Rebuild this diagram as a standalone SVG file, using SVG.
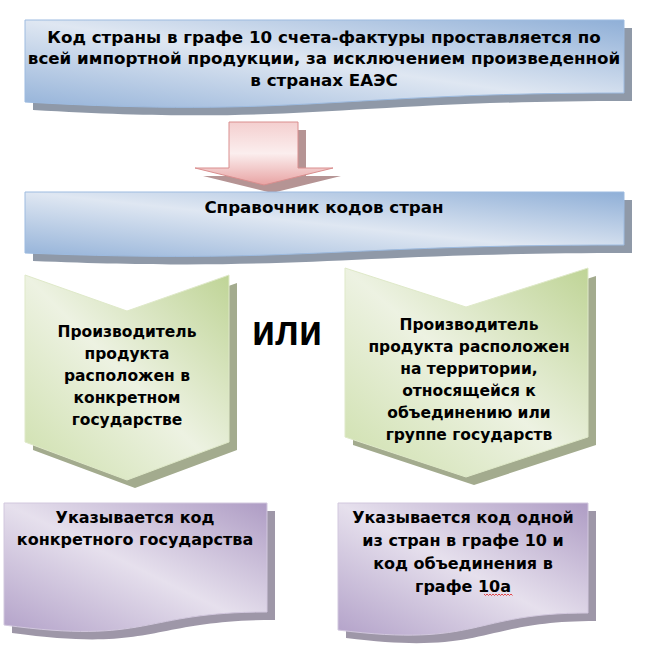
<svg xmlns="http://www.w3.org/2000/svg" width="648" height="669" viewBox="0 0 648 669">
<defs>
  <linearGradient id="gBlue" x1="1" y1="0" x2="0" y2="1">
    <stop offset="0" stop-color="#8fafd7"/>
    <stop offset="0.5" stop-color="#dfe7f2"/>
    <stop offset="1" stop-color="#95b3d9"/>
  </linearGradient>
  <linearGradient id="gGreen" x1="1" y1="0" x2="0" y2="1">
    <stop offset="0" stop-color="#bfd496"/>
    <stop offset="0.5" stop-color="#edf2e2"/>
    <stop offset="1" stop-color="#cddfab"/>
  </linearGradient>
  <linearGradient id="gPurple" x1="1" y1="0" x2="0" y2="1">
    <stop offset="0" stop-color="#ae9cc4"/>
    <stop offset="0.5" stop-color="#e6e0ed"/>
    <stop offset="1" stop-color="#b3a2c9"/>
  </linearGradient>
  <linearGradient id="gArrow" x1="0" y1="0" x2="0" y2="1">
    <stop offset="0" stop-color="#f4cfcf"/>
    <stop offset="0.5" stop-color="#fbeeee"/>
    <stop offset="1" stop-color="#e8a3a3"/>
  </linearGradient>
</defs>
<style>
  .t { font-family: "DejaVu Sans", Verdana, sans-serif; font-weight: bold; font-size: 15.5px; fill: #000; text-anchor: middle; }
  .tb { font-size: 16.7px; }
  .tp { font-size: 16px; }
  .big { font-family: "Liberation Sans", Arial, sans-serif; font-weight: bold; font-size: 42px; fill: #000; text-anchor: middle; }
  .blue { fill: url(#gBlue); stroke: #9dbbe0; stroke-width: 1; }
  .green { fill: url(#gGreen); stroke: #dfe9c9; stroke-width: 1; }
  .purple { fill: url(#gPurple); stroke: #d2c8de; stroke-width: 1; }
  .shB { fill: #8f99a8; }
  .shG { fill: #a3ab8e; }
  .shP { fill: #9e97a8; }
</style>

<g id="box-top">
  <path class="shB" transform="translate(8,8)" d="M25,20 H624 V93 C330,93 300,118 25,102 Z"/>
  <path class="blue" d="M25,20 H624 V93 C330,93 300,118 25,102 Z"/>
  <text class="t tb" x="324" y="43">Код страны в графе 10 счета-фактуры проставляется по</text>
  <text class="t tb" x="324" y="64">всей импортной продукции, за исключением произведенной</text>
  <text class="t tb" x="324" y="86">в странах ЕАЭС</text>
</g>

<g id="connectors">
  <path fill="#b59494" transform="translate(8,8)" d="M229,122 H298 V168 H333 L264,185 L195,168 H229 Z"/>
  <path fill="url(#gArrow)" stroke="#d98e8e" stroke-width="1" d="M229,122 H298 V168 H333 L264,185 L195,168 H229 Z"/>
</g>

<g id="box-reference">
  <path class="shB" transform="translate(8,8)" d="M25,192 H624 V245 C330,245 300,264 25,253 Z"/>
  <path class="blue" d="M25,192 H624 V245 C330,245 300,264 25,253 Z"/>
  <text class="t tb" x="324" y="213">Справочник кодов стран</text>
</g>

<g id="chevron-left">
  <path class="shG" transform="translate(8,8)" d="M25,275 L127,311 L229,275 V442 L127,480 L25,442 Z"/>
  <path class="green" d="M25,275 L127,311 L229,275 V442 L127,480 L25,442 Z"/>
  <text class="t" x="127" y="337">Производитель</text>
  <text class="t" x="127" y="359">продукта</text>
  <text class="t" x="127" y="381">расположен в</text>
  <text class="t" x="127" y="403">конкретном</text>
  <text class="t" x="127" y="425">государстве</text>
</g>

<g id="or-label">
  <text class="big" x="287" y="345" textLength="70" lengthAdjust="spacingAndGlyphs">или</text>
</g>

<g id="chevron-right">
  <path class="shG" transform="translate(8,8)" d="M345,268 L466,307 L588,268 V437 L466,477 L345,437 Z"/>
  <path class="green" d="M345,268 L466,307 L588,268 V437 L466,477 L345,437 Z"/>
  <text class="t" x="469" y="330">Производитель</text>
  <text class="t" x="469" y="352">продукта расположен</text>
  <text class="t" x="469" y="374">на территории,</text>
  <text class="t" x="469" y="396">относящейся к</text>
  <text class="t" x="469" y="418">объединению или</text>
  <text class="t" x="469" y="440">группе государств</text>
</g>

<g id="result-left">
  <path class="shP" transform="translate(8,8)" d="M4,503 H267 V612 C140,612 150,645 4,625 Z"/>
  <path class="purple" d="M4,503 H267 V612 C140,612 150,645 4,625 Z"/>
  <text class="t tp" x="135" y="523">Указывается код</text>
  <text class="t tp" x="135" y="545">конкретного государства</text>
</g>

<g id="result-right">
  <path class="shP" transform="translate(8,8)" d="M338,503 H588 V613 C470,613 480,648 338,630 Z"/>
  <path class="purple" d="M338,503 H588 V613 C470,613 480,648 338,630 Z"/>
  <text class="t tp" x="463" y="523">Указывается код одной</text>
  <text class="t tp" x="463" y="546">из стран в графе 10 и</text>
  <text class="t tp" x="463" y="569">код объединения в</text>
  <text class="t tp" x="463" y="592">графе 10а</text>
  <path fill="none" stroke="#e02020" stroke-width="0.8" d="M484,594 l1.5,1.5 l1.5,-1.5 l1.5,1.5 l1.5,-1.5 l1.5,1.5 l1.5,-1.5 l1.5,1.5 l1.5,-1.5 l1.5,1.5 l1.5,-1.5 l1.5,1.5 l1.5,-1.5 l1.5,1.5 l1.5,-1.5 l1.5,1.5 l1.5,-1.5 l1.5,1.5 l1.5,-1.5 l1.5,1.5"/>
</g>
</svg>
